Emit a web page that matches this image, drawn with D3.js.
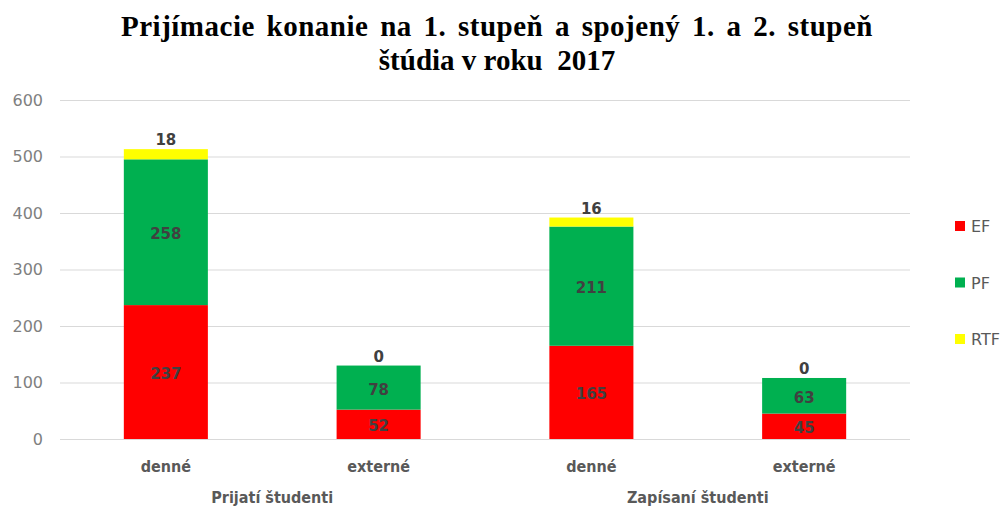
<!DOCTYPE html>
<html>
<head>
<meta charset="utf-8">
<script src="https://cdn.jsdelivr.net/npm/d3@7"></script>
<style>
    body { margin: 0; background: #fff; }
    svg { display: block; }
</style>
</head>
<body>
<svg id="chart" width="1001" height="508"></svg>
<script>
const titleLines = ["Prijímacie konanie na 1. stupeň a spojený 1. a 2. stupeň", "štúdia v roku  2017"];
const groups = ["Prijatí študenti", "Zapísaní študenti"];
const categories = ["denné", "externé", "denné", "externé"];
const seriesNames = ["EF", "PF", "RTF"];
const seriesColors = ["#ff0000", "#00b050", "#ffff00"];
const efValues = [237, 52, 165, 45];
const pfValues = [258, 78, 211, 63];
const rtfValues = [18, 0, 16, 0];
const yTicks = [0, 100, 200, 300, 400, 500, 600];

const svg = d3.select("#chart");
const margin = { left: 60, right: 91, top: 100, bottom: 69 };
const width = 1001 - margin.left - margin.right;
const height = 508 - margin.top - margin.bottom;

const rows = categories.map((c, i) => ({ idx: i, cat: c, EF: efValues[i], PF: pfValues[i], RTF: rtfValues[i] }));
const stacked = d3.stack().keys(seriesNames)(rows);

const x = d3.scaleBand()
    .domain(rows.map(r => r.idx))
    .range([margin.left, margin.left + width])
    .paddingInner(0.605)
    .paddingOuter(0.3);

const y = d3.scaleLinear()
    .domain([0, 600])
    .range([margin.top + height, margin.top]);

const color = d3.scaleOrdinal().domain(seriesNames).range(seriesColors);

// title (first line is set a bit looser in the original)
svg.append("g")
    .selectAll("text")
    .data(titleLines)
    .enter()
    .append("text")
    .attr("x", 497)
    .attr("y", (d, i) => 36 + i * 34)
    .attr("text-anchor", "middle")
    .attr("font-family", "Liberation Serif, Times New Roman, serif")
    .attr("font-weight", "bold")
    .attr("font-size", 29)
    .attr("letter-spacing", (d, i) => i === 0 ? 0.5 : 0)
    .attr("word-spacing", (d, i) => i === 0 ? 4 : 0)
    .attr("fill", "#000")
    .style("white-space", "pre")
    .text(d => d);

// gridlines + y labels
const yAxis = svg.append("g")
    .attr("transform", `translate(${margin.left},0)`)
    .call(d3.axisLeft(y).tickValues(yTicks).tickSize(-width).tickPadding(17));
yAxis.select(".domain").remove();
yAxis.selectAll(".tick line").attr("stroke", "#d9d9d9").attr("stroke-width", 1);
yAxis.selectAll(".tick text")
    .attr("font-family", "DejaVu Sans, Verdana, sans-serif")
    .attr("font-size", 16)
    .attr("fill", "#7f7f7f");

// bars
const layers = svg.append("g")
    .selectAll("g.layer")
    .data(stacked)
    .enter()
    .append("g")
    .attr("fill", d => color(d.key));

layers.selectAll("rect")
    .data(d => d)
    .enter()
    .append("rect")
    .attr("x", d => x(d.data.idx))
    .attr("width", x.bandwidth())
    .attr("y", d => y(d[1]))
    .attr("height", d => y(d[0]) - y(d[1]));

// value labels
const labelFont = "DejaVu Sans, Verdana, sans-serif";
stacked.forEach(layer => {
    svg.append("g")
        .selectAll("text")
        .data(layer)
        .enter()
        .append("text")
        .attr("x", d => x(d.data.idx) + x.bandwidth() / 2)
        .attr("y", d => layer.key === "RTF" ? y(d[1]) - 4 : (y(d[0]) + y(d[1])) / 2 + 7)
        .attr("text-anchor", "middle")
        .attr("font-family", labelFont)
        .attr("font-weight", "bold")
        .attr("font-size", 15)
        .attr("fill", "#404040")
        .text(d => d.data[layer.key]);
});

// category labels
svg.append("g")
    .selectAll("text")
    .data(rows)
    .enter()
    .append("text")
    .attr("x", d => x(d.idx) + x.bandwidth() / 2)
    .attr("y", 472)
    .attr("text-anchor", "middle")
    .attr("font-family", "DejaVu Sans Condensed, DejaVu Sans, sans-serif")
    .attr("font-weight", "bold")
    .attr("font-size", 16)
    .attr("fill", "#595959")
    .text(d => d.cat);

// group labels
svg.append("g")
    .selectAll("text")
    .data(groups)
    .enter()
    .append("text")
    .attr("x", (d, i) => (x(i * 2) + x(i * 2 + 1) + x.bandwidth()) / 2)
    .attr("y", 503)
    .attr("text-anchor", "middle")
    .attr("font-family", "DejaVu Sans Condensed, DejaVu Sans, sans-serif")
    .attr("font-weight", "bold")
    .attr("font-size", 16)
    .attr("fill", "#595959")
    .text(d => d);

// legend
const legend = svg.append("g")
    .selectAll("g")
    .data(seriesNames)
    .enter()
    .append("g")
    .attr("transform", (d, i) => `translate(955, ${221 + i * 56.5})`);
legend.append("rect")
    .attr("width", 10)
    .attr("height", 10)
    .attr("fill", d => color(d));
legend.append("text")
    .attr("x", 16)
    .attr("y", 11)
    .attr("font-family", "DejaVu Sans, Verdana, sans-serif")
    .attr("font-size", 16)
    .attr("fill", "#595959")
    .text(d => d);
</script>
</body>
</html>
